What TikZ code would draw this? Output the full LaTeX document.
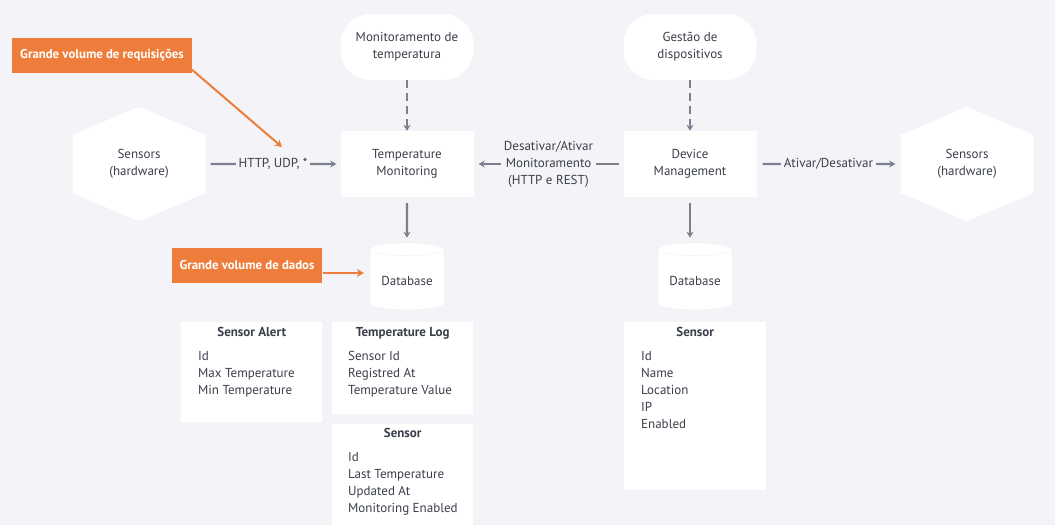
\documentclass[tikz,border=0pt]{standalone}
\usepackage{fontspec}
\setmainfont{PT Sans}
\usetikzlibrary{shapes.geometric, shapes.symbols, arrows.meta, positioning, calc}
\definecolor{bgcol}{HTML}{F4F4F8}
\definecolor{inkcol}{HTML}{3A3F4A}
\definecolor{linecol}{HTML}{7B7F8E}
\definecolor{notecol}{HTML}{EE7D3B}
\tikzstyle{hexa} = [
    shape=signal,
    signal to=north and south,
    signal pointer angle=134,
    fill=white,
    minimum width=133pt,
    minimum height=86pt,
    align=center
]
\tikzstyle{service} = [
    rectangle,
    fill=white,
    minimum width=133pt,
    minimum height=66pt,
    align=center
]
\tikzstyle{bubble} = [
    rectangle,
    rounded corners=30pt,
    fill=white,
    minimum width=133pt,
    minimum height=66pt,
    align=center
]
\tikzstyle{db} = [
    cylinder,
    shape border rotate=90,
    aspect=0.22,
    fill=white,
    draw=black!6,
    minimum width=74pt,
    minimum height=67pt
]
\tikzstyle{note} = [
    rectangle,
    fill=notecol,
    text=white,
    font=\fontsize{12.8}{15}\bfseries,
    minimum height=35pt,
    inner xsep=8pt
]
\tikzstyle{tablebox} = [rectangle, fill=white, anchor=north west, inner sep=0pt]
\tikzstyle{tabtitle} = [anchor=base, font=\fontsize{13}{17}\bfseries]
\tikzstyle{tabitems} = [anchor=north west, align=left, inner sep=0pt]
\tikzstyle{arrow} = [line width=2.4pt, linecol, -{Stealth[length=6pt,width=7pt]}]
\tikzstyle{dasharrow} = [arrow, dash pattern=on 8pt off 5pt]
\tikzstyle{notearrow} = [line width=2pt, notecol, -{Stealth[length=7pt,width=8pt]}]
\tikzstyle{linklabel} = [fill=bgcol, text=inkcol, inner sep=3pt, align=center]
\begin{document}
\begin{tikzpicture}[x=1pt, y=-1pt, font=\fontsize{13}{17}\selectfont, text=inkcol]

\fill[bgcol] (0,0) rectangle (1055,525);
\useasboundingbox (0,0) rectangle (1055,525);

% services and their sources
\node (tempBubble) [bubble] at (407,47) {Monitoramento de\\temperatura};
\node (devBubble) [bubble] at (690,47) {Gestão de\\dispositivos};
\node (tempMon) [service] at (407,164) {Temperature\\Monitoring};
\node (devMgmt) [service] at (690,164) {Device\\Management};
\node (sensLeft) [hexa] at (139,164) {Sensors\\(hardware)};
\node (sensRight) [hexa] at (967,164) {Sensors\\(hardware)};
\node (tempDb) [db] at (407,281) {Database};
\node (devDb) [db] at (695,281) {Database};

% notes
\node (reqNote) [note] at (102,55) {Grande volume de requisições};
\node (dataNote) [note] at (247,265) {Grande volume de dados};
\coordinate (reqTip) at (282,147);

% tables
\node (alertTab) [tablebox, minimum width=141pt, minimum height=100pt] at (181,322) {};
\node [tabtitle] at ($(alertTab.north)+(0,14)$) {Sensor Alert};
\node [tabitems] at ($(alertTab.north west)+(17,29)$) {Id\\Max Temperature\\Min Temperature};

\node (logTab) [tablebox, minimum width=141pt, minimum height=92pt] at (332,322) {};
\node [tabtitle] at ($(logTab.north)+(0,14)$) {Temperature Log};
\node [tabitems] at ($(logTab.north west)+(16,29)$) {Sensor Id\\Registred At\\Temperature Value};

\node (tempSensTab) [tablebox, minimum width=141pt, minimum height=101pt] at (332,424) {};
\node [tabtitle] at ($(tempSensTab.north)+(0,13)$) {Sensor};
\node [tabitems] at ($(tempSensTab.north west)+(16,28)$) {Id\\Last Temperature\\Updated At\\Monitoring Enabled};

\node (devSensTab) [tablebox, minimum width=142pt, minimum height=168pt] at (624,322) {};
\node [tabtitle] at ($(devSensTab.north)+(0,14)$) {Sensor};
\node [tabitems] at ($(devSensTab.north west)+(17,29)$) {Id\\Name\\Location\\IP\\Enabled};

% connectors
\draw [dasharrow] (tempBubble) -- (tempMon);
\draw [dasharrow] (devBubble) -- (devMgmt);
\draw [arrow, shorten <=5pt, shorten >=4pt] (sensLeft) -- node[linklabel] {HTTP, UDP, *} (tempMon);
\draw [arrow, shorten <=4pt, shorten >=5pt] (devMgmt) -- node[linklabel] {Desativar/Ativar\\Monitoramento\\(HTTP e REST)} (tempMon);
\draw [arrow, shorten <=6pt, shorten >=5pt] (devMgmt) -- node[linklabel] {Ativar/Desativar} (sensRight);
\draw [arrow, shorten <=6pt, shorten >=5pt] (tempMon) -- (tempDb);
\draw [arrow, shorten <=6pt, shorten >=5pt] (devMgmt) -- (devMgmt |- devDb.north);
\draw [notearrow] ([yshift=3pt]reqNote.south east) -- (reqTip);
\draw [notearrow, shorten >=6pt] ([yshift=-8pt]dataNote.east) -- ([yshift=-8pt]dataNote.east -| tempDb.west);

\end{tikzpicture}
\end{document}
